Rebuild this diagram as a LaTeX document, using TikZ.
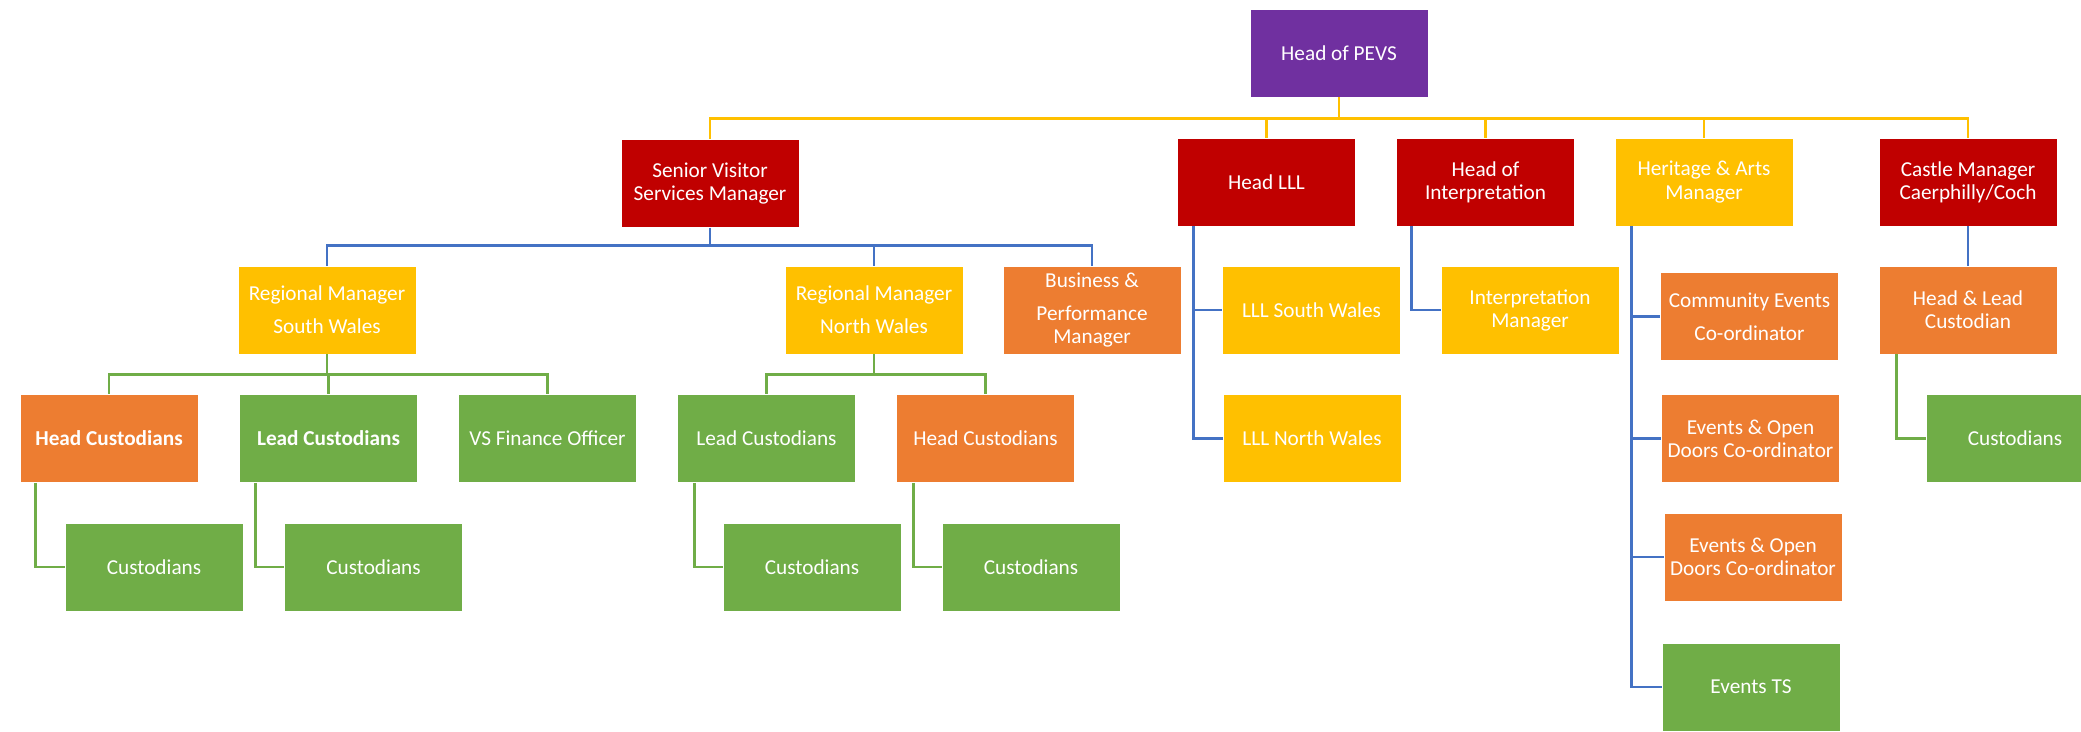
\documentclass[tikz,border=0pt]{standalone}
\usepackage{fontspec}
\setmainfont{Carlito}
\usetikzlibrary{calc}
\definecolor{cpurple}{HTML}{7030A0}
\definecolor{cred}{HTML}{C00000}
\definecolor{cyellow}{HTML}{FFC000}
\definecolor{corange}{HTML}{ED7D31}
\definecolor{cgreen}{HTML}{70AD47}
\definecolor{cblue}{HTML}{4472C4}
\tikzset{
  box/.style={draw=white, line width=0.4pt, minimum width=3.56cm, minimum height=1.76cm,
    inner sep=1pt, align=center, text=white, font=\fontsize{12.1}{13.1}\selectfont},
  pbox/.style={box, fill=cpurple},
  rbox/.style={box, fill=cred},
  ybox/.style={box, fill=cyellow},
  obox/.style={box, fill=corange},
  gbox/.style={box, fill=cgreen},
  yline/.style={draw=cyellow, line width=1.6pt},
  bline/.style={draw=cblue, line width=1.6pt},
  gline/.style={draw=cgreen, line width=1.6pt},
}
\begin{document}
\begin{tikzpicture}[x=0.02cm,y=-0.02cm]
\useasboundingbox[fill=white] (0,0) rectangle (2081,731);
% level 0
\node[pbox] (pevs) at (1339,53) {Head of PEVS};
% level 1
\node[rbox] (svsm) at (710,183.5) {Senior Visitor\\Services Manager};
\node[rbox] (hlll) at (1266.5,182) {Head LLL};
\node[rbox] (hint) at (1485.5,182) {Head of\\Interpretation};
\node[ybox] (ham) at (1704,182) {Heritage \& Arts\\Manager};
\node[rbox] (cm) at (1968,182) {Castle Manager\\Caerphilly/Coch};
% level 2
\node[ybox] (rms) at (327,310) {Regional Manager\\[5.7pt]South Wales};
\node[ybox] (rmn) at (874,310) {Regional Manager\\[5.7pt]North Wales};
\node[obox] (bpm) at (1092,310) {Business \&\\[5.7pt]Performance\\Manager};
\node[ybox] (llls) at (1311.5,310) {LLL South Wales};
\node[ybox] (intm) at (1530,310) {Interpretation\\Manager};
\node[obox] (cec) at (1749.5,316.5) {Community Events\\[5.7pt]Co-ordinator};
\node[obox] (hlc) at (1968,310) {Head \& Lead\\Custodian};
% level 3
\node[obox, font=\fontsize{12.1}{13.1}\selectfont\bfseries] (hcs) at (109,438.5) {Head Custodians};
\node[gbox, font=\fontsize{12.1}{13.1}\selectfont\bfseries] (lcs) at (328.5,438.5) {Lead Custodians};
\node[gbox] (vsf) at (547.5,438.5) {VS Finance Officer};
\node[gbox] (lcn) at (766.5,438.5) {Lead Custodians};
\node[obox] (hcn) at (985.5,438.5) {Head Custodians};
\node[ybox] (lllnw) at (1312,438.5) {LLL North Wales};
\node[obox] (eod1) at (1750.5,438.5) {Events \& Open\\Doors Co-ordinator};
\node[gbox] (cus5) at (2015,438.5) {Custodians};
% level 4
\node[gbox] (c1) at (154,567) {Custodians};
\node[gbox] (c2) at (373.5,567) {Custodians};
\node[gbox] (c3) at (812,567) {Custodians};
\node[gbox] (c4) at (1031,567) {Custodians};
\node[obox] (eod2) at (1753,557) {Events \& Open\\Doors Co-ordinator};
\node[gbox] (ets) at (1751,687) {Events TS};
% yellow connectors
\foreach \t in {svsm,hlll,hint,ham,cm}
  \draw[yline] (pevs.south) -- ++(0,21) -| (\t.north);
% blue connectors
\foreach \t in {rms,rmn,bpm}
  \draw[bline] (svsm.south) -- ++(0,18) -| (\t.north);
\draw[bline] (cm.south) -- (hlc.north);
\foreach \t in {llls,lllnw}
  \draw[bline] ($(hlll.south west)+(16,0)$) |- (\t.west);
\draw[bline] ($(hint.south west)+(15,0)$) |- (intm.west);
\foreach \t in {cec,eod1,eod2,ets}
  \draw[bline] ($(ham.south west)+(17,0)$) |- (\t.west);
% green connectors
\foreach \t in {hcs,lcs,vsf}
  \draw[gline] (rms.south) -- ++(0,20) -| (\t.north);
\foreach \t in {lcn,hcn}
  \draw[gline] (rmn.south) -- ++(0,20) -| (\t.north);
\draw[gline] ($(hcs.south west)+(16,0)$) |- (c1.west);
\draw[gline] ($(lcs.south west)+(16,0)$) |- (c2.west);
\draw[gline] ($(lcn.south west)+(17,0)$) |- (c3.west);
\draw[gline] ($(hcn.south west)+(17,0)$) |- (c4.west);
\draw[gline] ($(hlc.south west)+(18,0)$) |- (cus5.west);
\end{tikzpicture}
\end{document}
